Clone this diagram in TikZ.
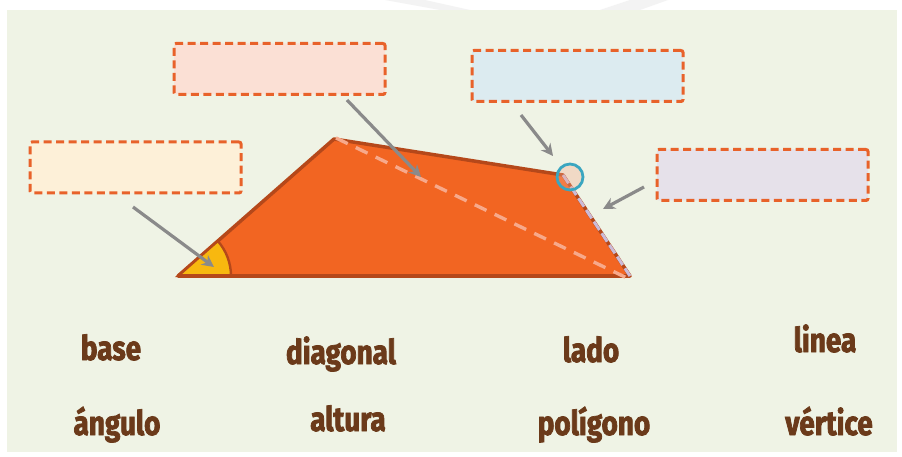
\documentclass[tikz,border=0pt]{standalone}
\usepackage{fontspec}
\newfontfamily\wordfont[FakeStretch=0.82, BoldFeatures={FakeBold=2.2}]{Fira Sans}
\usetikzlibrary{arrows.meta}
\definecolor{bgc}{HTML}{EFF3E5}
\definecolor{polyfill}{HTML}{F26522}
\definecolor{polyedge}{HTML}{B5481A}
\definecolor{angfill}{HTML}{F8B80F}
\definecolor{diagc}{HTML}{F7A98B}
\definecolor{lavc}{HTML}{CBBBD8}
\definecolor{tealc}{HTML}{3AA6C0}
\definecolor{boxedge}{HTML}{E8622A}
\definecolor{pinkc}{HTML}{FBE0D5}
\definecolor{bluec}{HTML}{DCEBF0}
\definecolor{yelc}{HTML}{FDF0D8}
\definecolor{lilc}{HTML}{E6E1EA}
\definecolor{arrc}{HTML}{8A8A8A}
\definecolor{wordc}{HTML}{6B3A1A}
\definecolor{markc}{HTML}{F3F3F3}
\tikzset{
  ansbox/.style={draw=boxedge, line width=3pt, dash pattern=on 8pt off 4.5pt, rounded corners=2pt, minimum width=211pt, minimum height=51pt, inner sep=0pt},
  ptr/.style={draw=arrc, line width=3.2pt, -{Stealth[length=12pt,width=12pt]}},
  word/.style={text=wordc, font=\wordfont\bfseries\fontsize{34}{36}\selectfont, inner sep=0pt, anchor=base}
}
\begin{document}
\begin{tikzpicture}[x=1pt,y=-1pt]
\useasboundingbox (0,0) rectangle (902,457);
\fill[white] (0,0) rectangle (902,457);
% faint watermark at top
\fill[markc] (385,0) -- (425,0) -- (470,10) -- (440,10) -- cycle;
\fill[markc] (600,10) -- (640,10) -- (668,0) -- (630,0) -- cycle;
\fill[bgc] (7,10) rectangle (897,452);
% polygon
\coordinate (A) at (178,276);
\coordinate (B) at (334,139);
\coordinate (C) at (563,175);
\coordinate (D) at (630,276);
\filldraw[fill=polyfill, draw=polyedge, line width=3.5pt, line join=round] (A) -- (B) -- (C) -- (D) -- cycle;
% angle
\filldraw[fill=angfill, draw=polyedge, line width=2.4pt] (A) -- ++(53,0) arc[start angle=0, end angle=-41.3, radius=53] -- cycle;
\draw[polyedge, line width=3.5pt] (A) -- (D);
% diagonal
\draw[diagc, line width=3.4pt, dash pattern=on 13pt off 9pt] ([xshift=2pt,yshift=1pt]B) -- ([xshift=-3pt,yshift=-2pt]D);
% lavender side
\draw[lavc, line width=3pt, dash pattern=on 10pt off 4pt] (C) -- (D);
% vertex circle
\node[circle, draw=tealc, line width=2.8pt, fill=diagc, fill opacity=0.35, minimum size=26pt, inner sep=0pt] (vc) at (570,177) {};
% boxes
\node[ansbox, fill=pinkc] (b1) at (279.5,69) {};
\node[ansbox, fill=bluec] (b2) at (577.5,76) {};
\node[ansbox, fill=yelc] (b3) at (135.5,167.5) {};
\node[ansbox, fill=lilc] (b4) at (762.5,175) {};
% pointer targets
\coordinate (t3) at (214,267);
\coordinate (t1) at (421,177);
\coordinate (t2) at (553,156);
\coordinate (t4) at (603,209);
\draw[ptr] (133,207) -- (t3);
\draw[ptr] (347,100) -- (t1);
\draw[ptr] (521,115) -- (t2);
\draw[ptr] (644,187) -- (t4);
% words
\node[word] (w1) at (111,360) {base};
\node[word] (w2) at (341,364) {diagonal};
\node[word] (w3) at (591,362) {lado};
\node[word] (w4) at (825,352) {linea};
\node[word] (w5) at (117,435) {ángulo};
\node[word] (w6) at (348,431) {altura};
\node[word] (w7) at (594,435) {polígono};
\node[word] (w8) at (829,435) {vértice};
\end{tikzpicture}
\end{document}
